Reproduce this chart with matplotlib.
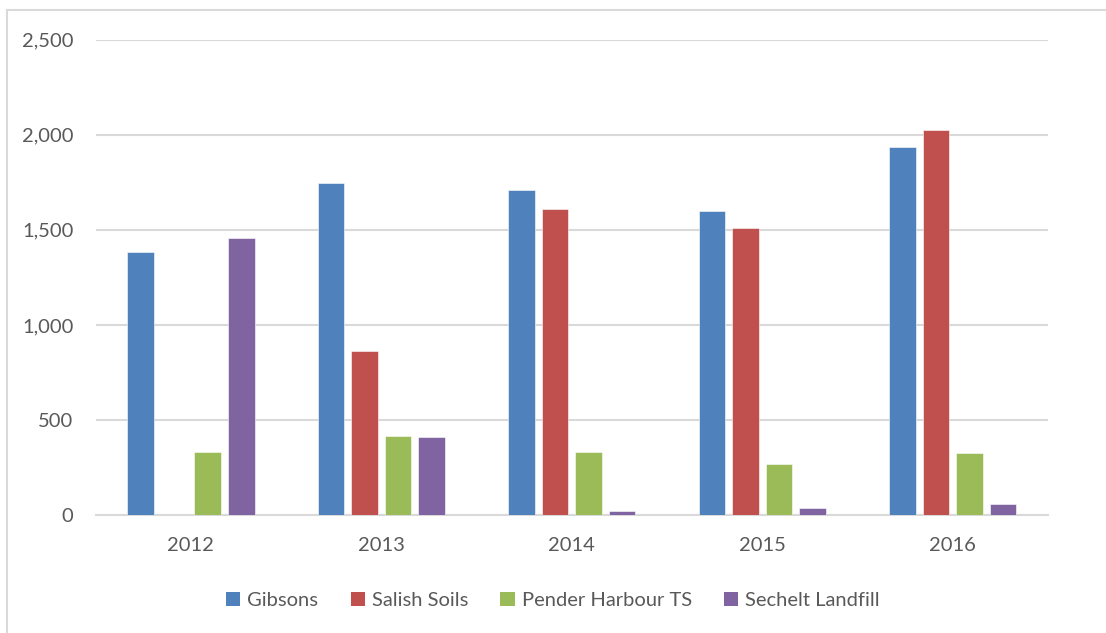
import matplotlib.pyplot as plt
import numpy as np
from matplotlib.lines import Line2D
from matplotlib.patches import Patch

plt.rcParams['font.family'] = ['Lato', 'DejaVu Sans']

years = ['2012', '2013', '2014', '2015', '2016']
gibsons = [1383, 1746, 1711, 1600, 1935]
salish_soils = [0, 863, 1609, 1511, 2025]
pender_harbour = [332, 414, 330, 267, 326]
sechelt_landfill = [1456, 410, 19, 35, 58]

series = [
    ('Gibsons', gibsons, '#4F81BD'),
    ('Salish Soils', salish_soils, '#C0504D'),
    ('Pender Harbour TS', pender_harbour, '#9BBB59'),
    ('Sechelt Landfill', sechelt_landfill, '#8064A2'),
]

text_col = '#595959'
grid_col = '#d9d9d9'

fig = plt.figure(figsize=(11.06, 6.33), dpi=100)
ax = fig.add_axes([0.0865, 0.1864, 0.861, 0.7509])

x = np.arange(len(years))
pitch = 0.176
width = 0.14
for i, (name, vals, col) in enumerate(series):
    ax.bar(x + (i - 1.5) * pitch, vals, width, color=col, label=name,
           edgecolor='white', linewidth=0.4, zorder=3)

ax.set_xlim(-0.5, len(years) - 0.5)
ax.set_ylim(0, 2500)
ax.set_yticks(range(0, 2501, 500))
ax.set_yticklabels([f'{v:,}' for v in range(0, 2501, 500)])
ax.set_xticks(x)
ax.set_xticklabels(years)
ax.grid(axis='y', color=grid_col, linewidth=1.5, zorder=0)
ax.tick_params(length=0, labelsize=14.5, colors=text_col)
ax.tick_params(axis='x', pad=16)
ax.tick_params(axis='y', pad=16)
for s in ['top', 'right', 'left']:
    ax.spines[s].set_visible(False)
ax.spines['bottom'].set_color(grid_col)
ax.spines['bottom'].set_linewidth(1.5)

handles = [Patch(facecolor=c, edgecolor='none') for _, _, c in series]
fig.legend(handles, [n for n, _, _ in series], loc='center',
           bbox_to_anchor=(0.5, 0.052), ncol=4, frameon=False,
           fontsize=14.5, labelcolor=text_col, handlelength=0.7,
           handleheight=0.7, handletextpad=0.35, columnspacing=1.6)

# chart frame, clipped at the right and bottom edges
fig.add_artist(Line2D([7 / 1106, 1], [1 - 10 / 633, 1 - 10 / 633],
                      color=grid_col, linewidth=1.5))
fig.add_artist(Line2D([7 / 1106, 7 / 1106], [0, 1 - 10 / 633],
                      color=grid_col, linewidth=1.5))

fig.savefig('out.png', dpi=100, facecolor='white')
